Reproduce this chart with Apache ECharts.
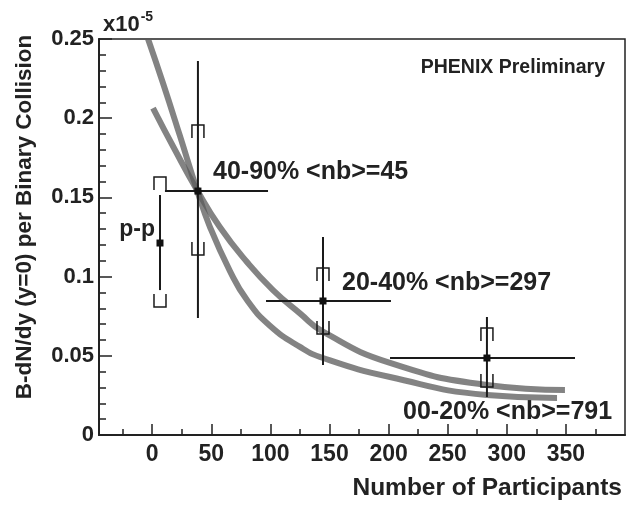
<!DOCTYPE html>
<html>
<head>
<meta charset="utf-8">
<script src="https://cdn.jsdelivr.net/npm/echarts@6/dist/echarts.min.js"></script>
<style>
html,body{margin:0;padding:0;background:#ffffff;}
#chart{width:627px;height:510px;}
</style>
</head>
<body>
<div id="chart"></div>
<script>
// ---- tick labels ----
const xTickLabels = [0, 50, 100, 150, 200, 250, 300, 350];
const xMinorTicks = [-25, 25, 75, 125, 175, 225, 275, 325, 375];
const yTickLabels = ['0', '0.05', '0.1', '0.15', '0.2', '0.25'];

// ---- curve A (steep, starts at 0.25) ----
const curveAX = [-3.5, 9.1, 23.5, 37.9, 48.9, 65.8, 80.2, 99.6, 125.0, 144.5, 201.2, 283.2, 342.5];
const curveAY = [0.250, 0.2222, 0.1888, 0.1547, 0.1313, 0.1035, 0.0852, 0.0690, 0.0556, 0.0486, 0.0366, 0.0253, 0.0234];

// ---- curve B (starts at ~0.206) ----
const curveBX = [0.7, 19.3, 37.9, 57.2, 80.2, 102.2, 125.0, 144.5, 201.2, 283.2, 349.2];
const curveBY = [0.2064, 0.1799, 0.1547, 0.1313, 0.1092, 0.0915, 0.0768, 0.0652, 0.0455, 0.0316, 0.0284];

// ---- data points ----
const pointLabels = ['p-p', '40-90% <nb>=45', '20-40% <nb>=297', '00-20% <nb>=791'];
const pointX   = [6.6, 38.7, 144.5, 283.2];
const pointY   = [0.1212, 0.154, 0.0846, 0.0486];
const statLow  = [0.0915, 0.0739, 0.0442, 0.0240];
const statHigh = [0.1515, 0.2361, 0.1250, 0.0745];
const xErrLow  = [null, 10.8, 96.3, 201.2];
const xErrHigh = [null, 98.0, 202.0, 357.7];
const sysLow   = [0.0808, 0.1136, 0.0638, 0.0303];
const sysHigh  = [0.1629, 0.1957, 0.1054, 0.0675];

const FONT = "'Liberation Sans', Arial, Helvetica, sans-serif";
const INK = '#222';

const chart = echarts.init(document.getElementById('chart'), null, {renderer: 'canvas'});

function curveData(xs, ys) { return xs.map((x, i) => [x, ys[i]]); }

const option = {
  backgroundColor: '#ffffff',
  animation: false,
  grid: {left: 99, right: 2, top: 39, bottom: 75, show: true, borderColor: INK, borderWidth: 1.5, backgroundColor: 'transparent'},
  xAxis: [{
    type: 'value', min: -45, max: 400,
    axisLine: {show: true, onZero: false, lineStyle: {color: INK, width: 2}},
    axisTick: {show: true, inside: true, length: 11, customValues: xTickLabels, lineStyle: {color: INK, width: 1.5}},
    axisLabel: {show: true, customValues: xTickLabels, fontFamily: FONT, fontWeight: 'bold', fontSize: 23, color: INK, margin: 8},
    splitLine: {show: false}
  }, {
    type: 'value', min: -45, max: 400, position: 'bottom', gridIndex: 0,
    axisLine: {show: false, onZero: false},
    axisTick: {show: true, inside: true, length: 6, customValues: xMinorTicks, lineStyle: {color: INK, width: 1.5}},
    axisLabel: {show: false},
    splitLine: {show: false}
  }],
  yAxis: {
    type: 'value', min: 0, max: 0.25, interval: 0.05,
    axisLine: {show: true, onZero: false, lineStyle: {color: INK, width: 2}},
    axisTick: {show: true, inside: true, length: 13, lineStyle: {color: INK, width: 1.5}},
    minorTick: {show: true, splitNumber: 5, length: 7, lineStyle: {color: INK, width: 1.5}},
    axisLabel: {
      fontFamily: FONT, fontWeight: 'bold', fontSize: 22, color: INK, margin: 5,
      formatter: function (v) { return yTickLabels[Math.round(v / 0.05)]; }
    },
    splitLine: {show: false}
  },
  series: [{
    type: 'line', name: 'curveA', data: curveData(curveAX, curveAY),
    smooth: 0.5, showSymbol: false, clip: true,
    lineStyle: {color: 'rgba(90,90,90,0.75)', width: 6}
  }, {
    type: 'line', name: 'curveB', data: curveData(curveBX, curveBY),
    smooth: 0.5, showSymbol: false, clip: true,
    lineStyle: {color: 'rgba(90,90,90,0.75)', width: 6}
  }, {
    type: 'custom', name: 'points',
    data: pointX.map((x, i) => [x, pointY[i]]),
    encode: {x: 0, y: 1},
    z: 5,
    renderItem: function (params, api) {
      const i = params.dataIndex;
      const x = api.value(0), y = api.value(1);
      const c = api.coord([x, y]);
      const st = {stroke: '#1a1a1a', lineWidth: 2};
      const bst = {stroke: '#1a1a1a', lineWidth: 1.5, fill: null};
      const ch = [];
      const t = api.coord([x, statHigh[i]]), b = api.coord([x, statLow[i]]);
      ch.push({type: 'line', shape: {x1: c[0], y1: t[1], x2: c[0], y2: b[1]}, style: st});
      if (xErrLow[i] !== null) {
        const l = api.coord([xErrLow[i], y]), r = api.coord([xErrHigh[i], y]);
        ch.push({type: 'line', shape: {x1: l[0], y1: c[1], x2: r[0], y2: c[1]}, style: st});
      }
      const hw = 6, leg = 13;
      const sh = api.coord([x, sysHigh[i]])[1], sl = api.coord([x, sysLow[i]])[1];
      ch.push({type: 'polyline', shape: {points: [[c[0] - hw, sh + leg], [c[0] - hw, sh], [c[0] + hw, sh], [c[0] + hw, sh + leg]]}, style: bst});
      ch.push({type: 'polyline', shape: {points: [[c[0] - hw, sl - leg], [c[0] - hw, sl], [c[0] + hw, sl], [c[0] + hw, sl - leg]]}, style: bst});
      ch.push({type: 'rect', shape: {x: c[0] - 3.5, y: c[1] - 3.5, width: 7, height: 7}, style: {fill: '#111'}});
      return {type: 'group', children: ch};
    }
  }],
  graphic: [
    {type: 'text', left: 103, top: 10, style: {text: '{a|x10}{b|-5}', rich: {
      a: {fontFamily: FONT, fontWeight: 'bold', fontSize: 22, fill: INK, verticalAlign: 'bottom', lineHeight: 26},
      b: {fontFamily: FONT, fontWeight: 'bold', fontSize: 14, fill: INK, verticalAlign: 'top', lineHeight: 26, padding: [0, 0, 10, 1]}
    }}},
    {type: 'text', x: 25, y: 217, rotation: Math.PI / 2, style: {text: 'B-dN/dy (y=0) per Binary Collision', fontFamily: FONT, fontWeight: 'bold', fontSize: 22.5, fill: INK, textAlign: 'center', textVerticalAlign: 'middle'}},
    {type: 'text', x: 622, y: 488, style: {text: 'Number of Participants', fontFamily: FONT, fontWeight: 'bold', fontSize: 24.5, fill: INK, textAlign: 'right', textVerticalAlign: 'middle'}},
    {type: 'text', x: 605, y: 68, style: {text: 'PHENIX Preliminary', fontFamily: FONT, fontWeight: 'bold', fontSize: 19.5, fill: INK, textAlign: 'right', textVerticalAlign: 'middle'}},
    {type: 'text', x: 155, y: 230, style: {text: pointLabels[0], fontFamily: FONT, fontWeight: 'bold', fontSize: 23, fill: INK, textAlign: 'right', textVerticalAlign: 'middle'}},
    {type: 'text', x: 213, y: 172, style: {text: pointLabels[1], fontFamily: FONT, fontWeight: 'bold', fontSize: 25, fill: INK, textAlign: 'left', textVerticalAlign: 'middle'}},
    {type: 'text', x: 342, y: 283, style: {text: pointLabels[2], fontFamily: FONT, fontWeight: 'bold', fontSize: 25, fill: INK, textAlign: 'left', textVerticalAlign: 'middle'}},
    {type: 'text', x: 403, y: 412, style: {text: pointLabels[3], fontFamily: FONT, fontWeight: 'bold', fontSize: 25, fill: INK, textAlign: 'left', textVerticalAlign: 'middle'}}
  ]
};
chart.setOption(option);
</script>
</body>
</html>
